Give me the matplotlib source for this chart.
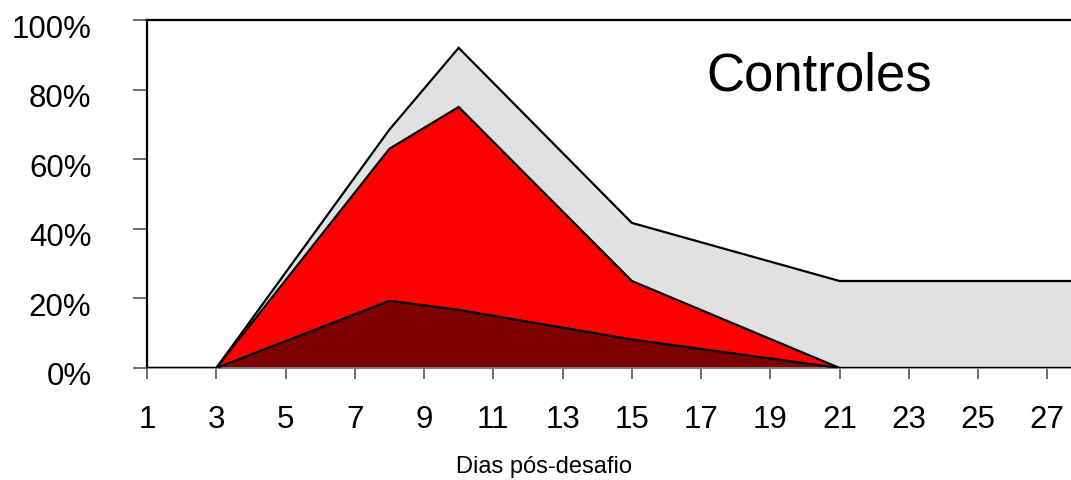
import numpy as np
import matplotlib.pyplot as plt
from matplotlib.transforms import ScaledTranslation

plt.rcParams['font.family'] = ['Liberation Sans', 'DejaVu Sans']

# dias e percentuais
dias = [1, 3, 8, 10, 15, 21, 28]
total = [0, 0, 68.5, 92, 41.7, 25, 25]
moderados = [0, 0, 63, 75, 25, 0, 0]
graves = [0, 0, 19.3, 16.7, 8.2, 0, 0]

cores = ['#e1e1e1', '#ff0000', '#7c0000']
series = [total, moderados, graves]

fig = plt.figure(figsize=(10.71, 4.81), dpi=100)
ax = fig.add_axes([147/1071, 112/481, (1082-147)/1071, 348/481])

for s, c in zip(series, cores):
    ax.fill_between(dias, 0, s, color=c, linewidth=0, zorder=2)
    ax.plot(dias, s, color='black', lw=1.6, zorder=3, solid_joinstyle='miter')

ax.set_xlim(1, 28)
ax.set_ylim(0, 100)
ax.set_xticks(np.arange(1, 28, 2))
ax.set_yticks(np.arange(0, 101, 20))
ax.set_yticklabels(['%d%%' % v for v in range(0, 101, 20)])
ax.tick_params(axis='both', labelsize=22.5, colors='#555555', labelcolor='black',
               direction='out', length=8, width=1.2)
ax.tick_params(axis='y', length=10, pad=30)
ax.tick_params(axis='x', pad=18)

# rotulos do eixo y um pouco abaixo das marcas, como no original
desloc = ScaledTranslation(0, -5/100, fig.dpi_scale_trans)
for lab in ax.get_yticklabels():
    lab.set_transform(lab.get_transform() + desloc)

ax.spines['left'].set_color('black')
ax.spines['left'].set_linewidth(1.6)
ax.spines['top'].set_color('black')
ax.spines['top'].set_linewidth(1.6)
ax.spines['bottom'].set_color('#888888')
ax.spines['bottom'].set_linewidth(1.2)
ax.spines['right'].set_visible(False)

fig.text(544/1071, 1 - 467/481, 'Dias pós-desafio', fontsize=17, ha='center', va='center')
ax.text(20.4, 84, 'Controles', fontsize=38, ha='center', va='center')

fig.savefig('out.png', dpi=100)
